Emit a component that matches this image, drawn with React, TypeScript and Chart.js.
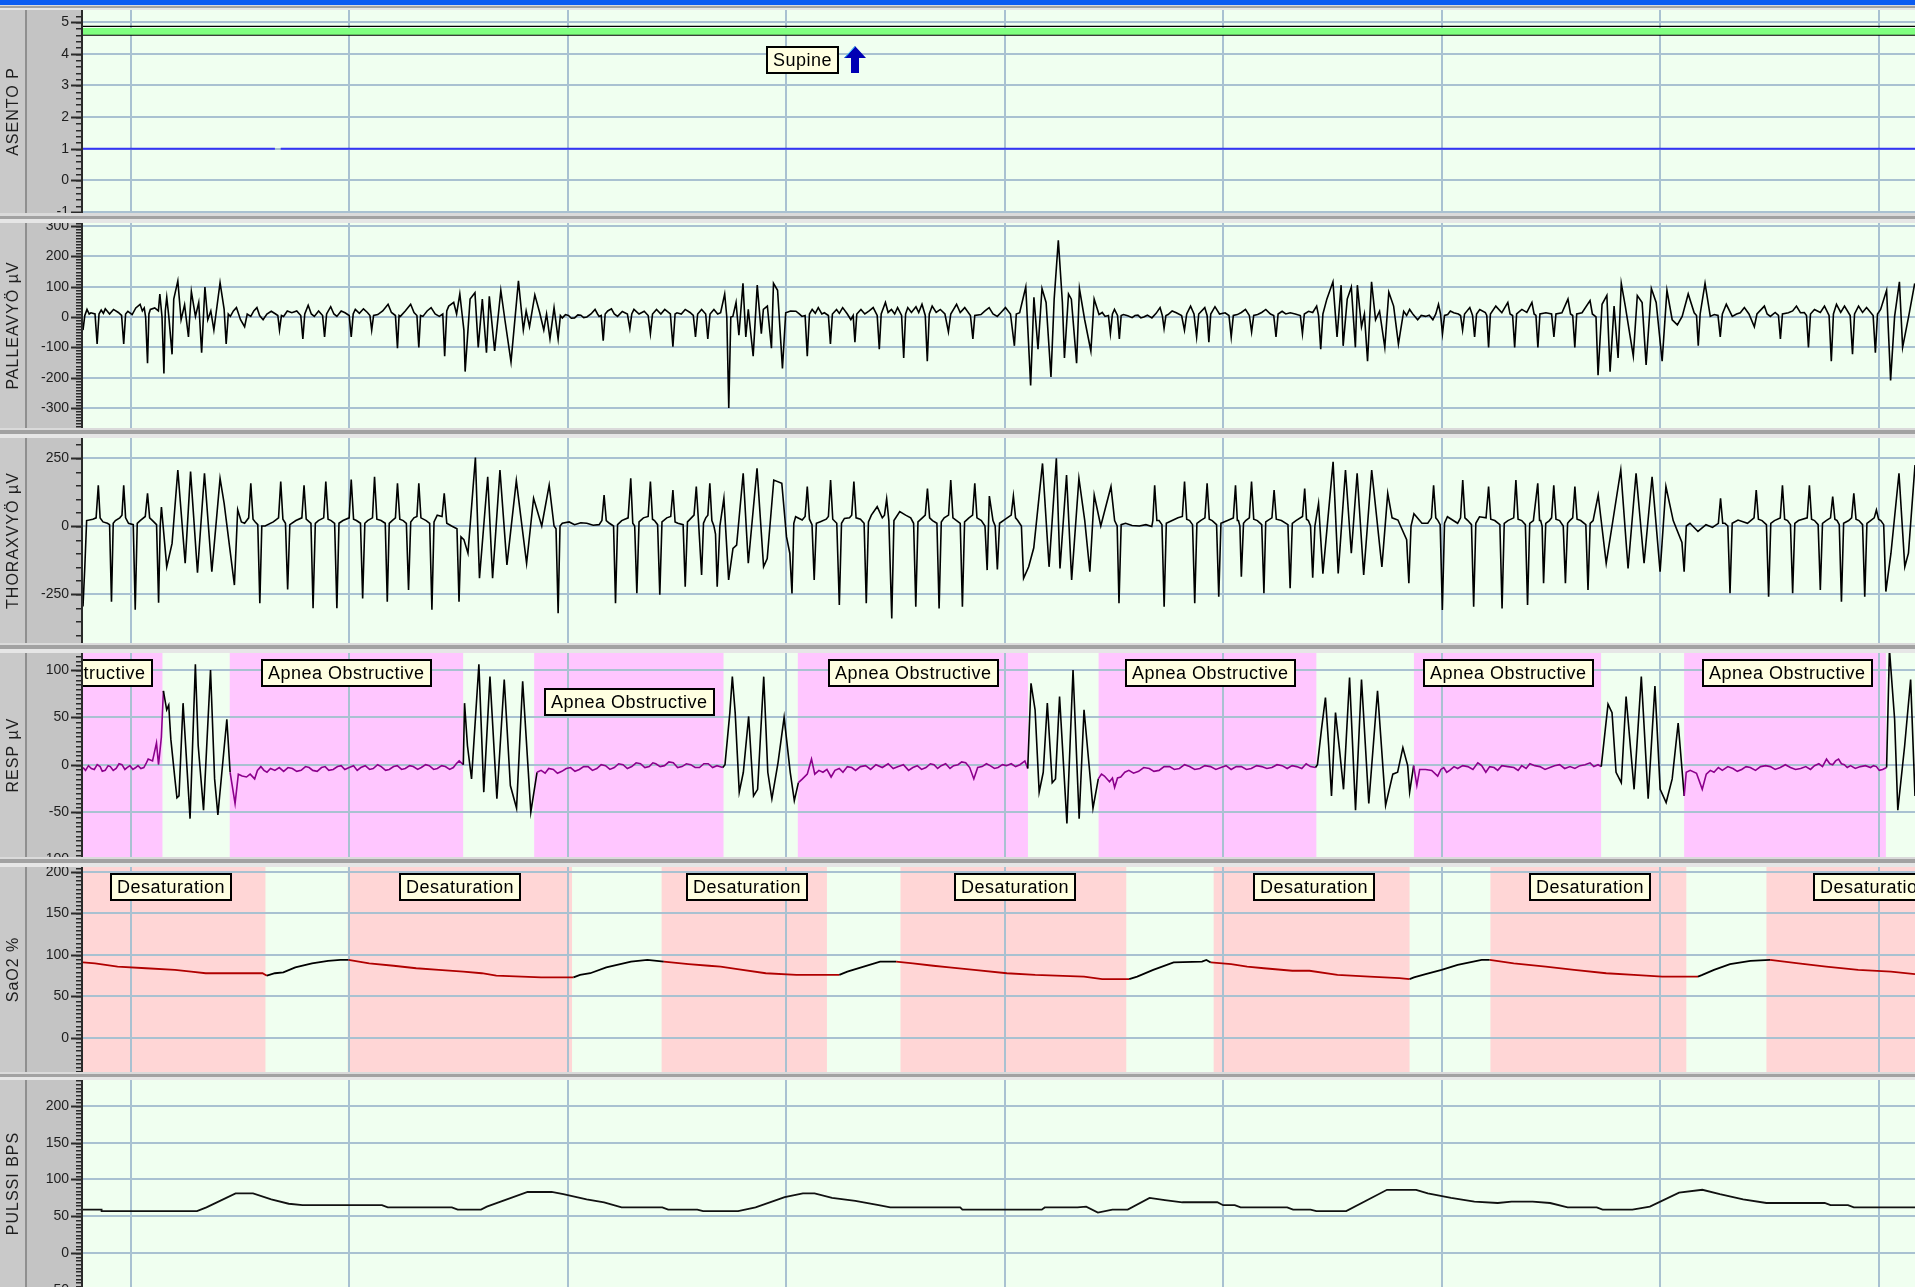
import React, { useEffect, useRef } from "react";
import { Chart, registerables } from "chart.js";

Chart.register(...registerables);

type Pt = [number, number];

// ---------- time axis ----------
const X_MIN = -6.55;
const X_MAX = 245.0;
const timeGrid = [0, 30, 60, 90, 120, 150, 180, 210, 240];

// ---------- events ----------
const apneaRegions: Pt[] = [[-6.55, 4.36], [13.6, 45.65], [55.4, 81.4], [91.6, 123.2], [132.9, 162.8], [176.2, 201.9], [213.3, 241.0]];
const desatRegions: Pt[] = [[-6.55, 18.5], [29.8, 60.6], [72.9, 95.6], [105.7, 136.7], [148.7, 175.6], [186.7, 213.6], [224.6, 245.0]];
const apneaLabelText = "Apnea Obstructive";
const apneaLabelT = [-20.35, 17.9, 56.7, 95.7, 136.5, 177.5, 215.7];
const apneaLabelLevel = [111.7, 111.7, 80.7, 111.7, 111.7, 111.7, 111.7];
const desatLabelText = "Desaturation";
const desatLabelT = [-2.8, 36.9, 76.2, 113.0, 154.1, 192.0, 231.0];
const desatLabelLevel = 198.4;
const positionLabelText = "Supine";
const positionLabelT = 87.2;
const positionLabelLevel = 4.24;
const positionArrowT = 99.4;

// ---------- ASENTO P ----------
const asentoTicks = [-1, 0, 1, 2, 3, 4, 5];
const bandTopLine: Pt[] = [[X_MIN, 4.86], [X_MAX, 4.86]];
const bandUpper: Pt[] = [[X_MIN, 4.81], [X_MAX, 4.81]];
const bandLower: Pt[] = [[X_MIN, 4.6], [X_MAX, 4.6]];
const positionValues: (number | null)[][] = [[X_MIN, 1], [19.8, 1], [20.2, null], [20.6, 1], [X_MAX, 1]];

// ---------- PALLEAVYÖ ----------
const palleaTicks = [300, 200, 100, 0, -100, -200, -300];
const palleaValues: Pt[] = [
  [-6.55,-43],[-6.3,5],[-6.0,25],[-5.7,10],[-5.46,14],[-4.9,10],[-4.61,-89],[-4.35,10],[-4.05,23],[-3.75,12],[-3.49,27],[-2.9,10],[-2.36,25],[-1.7,15],[-1.25,5],[-0.96,-89],[-0.7,10],[-0.39,19],[0.2,8],[0.7,30],[1.29,42],[1.6,20],[1.86,30],[2.05,0],[2.31,-152],[2.5,10],[2.7,25],[3.3,30],[3.8,20],[4.0,76],[4.3,0],[4.56,-186],[4.75,20],[4.95,65],[5.23,2],[5.68,-123],[5.91,59],[6.47,119],[6.92,-9],[7.4,40],[7.93,-66],[8.33,84],[8.89,2],[9.34,48],[9.74,-118],[10.19,99],[10.58,-9],[11.0,20],[11.42,-43],[12.27,113],[12.83,25],[13.11,-89],[13.4,10],[13.68,2],[14.1,20],[14.52,31],[15.08,-9],[15.64,-32],[16.0,10],[16.49,2],[16.9,20],[17.33,31],[17.7,5],[18.18,-9],[18.7,10],[19.3,19],[19.9,10],[20.2,5],[20.43,-43],[20.7,5],[20.99,2],[21.5,20],[22.12,14],[22.8,20],[23.35,5],[23.64,-72],[23.9,10],[24.37,39],[24.8,10],[25.21,2],[25.8,20],[26.35,5],[26.62,-66],[26.9,10],[27.46,34],[27.9,10],[28.31,2],[28.9,20],[29.43,14],[30.0,5],[30.28,-66],[30.55,10],[30.84,25],[31.4,12],[31.96,27],[32.5,15],[32.85,5],[33.09,-43],[33.35,5],[33.93,8],[34.6,20],[35.34,42],[35.8,15],[36.35,5],[36.63,-103],[36.85,5],[37.03,2],[37.7,20],[38.44,42],[38.9,15],[39.3,5],[39.56,-100],[39.8,5],[40.12,2],[40.7,20],[41.25,31],[41.8,10],[42.37,2],[42.85,10],[43.11,-129],[43.4,20],[43.67,36],[44.35,48],[44.75,10],[45.19,76],[45.5,10],[45.75,-43],[45.92,-180],[46.6,59],[47.27,80],[47.72,-100],[48.28,59],[48.85,-118],[49.24,68],[49.97,-112],[50.82,88],[51.38,-9],[52.22,-148],[53.24,119],[53.91,-43],[54.3,20],[54.76,-32],[55.49,73],[56.16,14],[56.72,-43],[57.1,10],[57.57,-72],[58.13,31],[58.69,-72],[59.0,5],[59.26,-3],[59.7,8],[60.1,5],[60.5,-4],[60.95,-3],[61.4,7],[61.8,6],[62.2,-2],[62.63,0],[63.2,10],[63.76,25],[64.1,10],[64.32,2],[64.6,5],[64.88,-78],[65.15,10],[65.5,20],[66.01,27],[66.4,10],[66.85,2],[67.5,18],[68.2,10],[68.54,-38],[68.8,10],[69.1,25],[69.8,10],[70.51,19],[71.05,5],[71.36,-55],[71.65,10],[72.2,25],[72.8,10],[73.33,25],[74.1,10],[74.45,-98],[74.75,10],[75.01,14],[75.6,10],[76.14,25],[76.8,15],[77.25,5],[77.55,-66],[77.85,10],[78.39,25],[78.95,10],[79.24,-72],[79.55,10],[80.08,25],[80.6,10],
  [81.0,14],[81.56,76],[81.85,0],[82.12,-300],[82.4,0],[82.68,2],[83.12,48],[83.51,-60],[84.07,111],[84.46,-66],[84.8,25],[85.47,-129],[86.03,105],[86.59,-55],[86.87,25],[87.42,36],[87.98,-103],[88.26,111],[88.82,88],[89.49,-170],[89.94,14],[90.6,20],[91.34,19],[91.8,10],[92.17,2],[92.6,5],[92.9,-129],[93.2,10],[93.57,25],[94.0,12],[94.41,31],[94.9,10],[95.25,14],[95.8,5],[96.08,-89],[96.35,10],[96.92,25],[97.3,12],[97.76,31],[98.4,10],[98.88,-9],[99.2,5],[99.44,-83],[99.7,10],[100.27,25],[100.8,10],[101.4,20],[101.95,31],[102.5,5],[102.79,-106],[103.05,10],[103.63,48],[104.0,15],[104.46,25],[104.9,10],[105.3,31],[105.85,5],[106.14,-135],[106.4,10],[106.7,31],[107.2,15],[107.82,34],[108.2,15],[108.65,42],[109.1,5],[109.38,-146],[109.65,10],[110.05,36],[110.6,15],[111.17,25],[111.8,10],[112.28,-49],[112.6,10],[113.4,42],[113.9,15],[114.52,31],[115.3,5],[115.64,-72],[115.9,5],[116.75,8],[117.3,20],[117.87,31],[118.4,10],[118.99,2],[119.5,15],[120.11,31],[120.8,10],[121.34,-95],[121.6,10],[122.06,14],[122.9,99],[123.57,-226],[124.02,65],[124.58,-106],[125.13,94],[125.69,48],[126.36,-198],[126.8,59],[127.37,253],[127.93,48],[128.21,-135],[128.77,76],[129.16,59],[129.88,-152],[130.27,94],[130.99,-9],[131.84,-112],[132.29,59],[132.96,8],[133.4,15],[133.79,2],[134.25,5],[134.52,-55],[134.8,10],[135.08,25],[135.5,5],[135.75,-72],[136.0,5],[136.31,8],[136.9,4],[137.5,-2],[137.9,5],[138.3,6],[138.7,-3],[139.1,0],[139.6,6],[140.22,-3],[140.8,12],[141.34,31],[141.65,5],[141.89,-38],[142.15,5],[142.45,8],[143.0,20],[143.57,14],[144.3,5],[144.69,-43],[145.0,10],[145.53,36],[146.0,10],[146.36,-66],[146.65,10],[147.48,31],[147.8,5],[148.04,-83],[148.3,10],[148.88,34],[149.5,10],[150.27,14],[150.8,5],[151.11,-66],[151.4,5],[151.95,8],[152.5,15],[153.07,25],[153.6,5],[153.91,-49],[154.2,5],[154.74,8],[155.3,15],[155.86,25],[156.5,10],[156.95,5],[157.26,-66],[157.55,10],[158.1,19],[158.6,10],[159.21,14],[159.9,10],[160.6,5],[160.89,-55],[161.15,10],[161.73,19],[162.3,15],[162.84,36],[163.1,5],[163.4,-106],[163.7,10],[164.24,59],[165.08,116],[165.64,-66],[166.2,105],[166.48,-95],[167.04,59],[167.6,99],[168.16,-100],[168.43,105],
  [169.0,-32],[169.4,10],[169.83,-146],[170.38,116],[170.93,-9],[171.48,19],[172.2,-100],[172.75,82],[173.41,36],[174.07,-89],[174.79,19],[175.2,5],[175.61,25],[176.1,8],[176.71,-9],[177.2,5],[177.81,2],[178.3,6],[178.8,-9],[179.2,10],[179.57,42],[179.85,10],[180.12,-55],[180.4,5],[180.84,8],[181.2,20],[181.66,14],[182.3,10],[182.6,5],[182.88,-43],[183.15,10],[183.87,31],[184.25,5],[184.53,-66],[184.8,10],[185.24,25],[186.0,15],[186.2,5],[186.45,-100],[186.7,10],[187.44,36],[188.27,14],[189.09,48],[189.4,10],[189.75,5],[190.03,-100],[190.3,10],[191.02,25],[191.7,15],[192.4,48],[192.7,10],[192.95,5],[193.22,-100],[193.5,10],[194.32,14],[195.1,10],[195.42,-66],[195.7,10],[196.52,14],[197.35,59],[197.7,10],[198.0,5],[198.29,-100],[198.55,10],[199.28,14],[200.38,54],[200.7,10],[201.2,0],[201.48,-192],[202.03,42],[202.69,71],[203.13,-180],[203.68,36],[204.23,-135],[204.67,111],[205.22,36],[206.32,-129],[206.87,71],[207.53,48],[208.08,-158],[208.8,94],[209.46,48],[210.28,-146],[210.94,88],[211.66,-9],[212.37,-26],[213.03,2],[213.86,76],[214.68,14],[215.0,5],[215.24,-95],[215.5,10],[216.17,111],[216.89,2],[217.44,8],[217.95,5],[218.26,-66],[218.55,10],[219.09,42],[219.91,2],[220.5,10],[221.01,14],[221.57,31],[222.2,10],[222.94,-32],[223.3,10],[224.32,36],[224.7,10],[225.14,2],[225.8,15],[226.25,5],[226.52,-72],[226.8,10],[227.62,14],[228.2,20],[228.72,36],[229.27,14],[229.8,15],[230.1,5],[230.37,-100],[230.65,10],[231.2,25],[232.0,15],[232.57,36],[233.2,5],[233.51,-146],[233.8,10],[234.22,42],[234.8,15],[235.32,36],[236.1,5],[236.42,-123],[236.7,10],[237.25,36],[237.8,15],[238.35,31],[239.25,5],[239.56,-118],[239.85,10],[240.28,25],[241.1,88],[241.65,-209],[242.2,2],[242.86,116],[243.3,-100],[244.13,2],[244.96,111]
];

// ---------- THORAXVYÖ ----------
const thoraxTicks = [250, 0, -250];
const thoraxValues: Pt[] = [
  [-6.55,-296],[-6.3,-150],[-6.05,20],[-5.2,25],[-4.75,30],[-4.45,150],[-4.2,30],[-3.8,15],[-3.2,10],[-2.9,5],[-2.64,-278],[-2.4,10],[-2.1,20],[-1.5,30],[-1.2,40],[-0.96,150],[-0.7,30],[-0.3,10],[0.35,5],[0.62,-308],[0.9,10],[1.3,20],[2.0,35],[2.31,120],[2.6,30],[3.0,20],[3.55,5],[3.83,-282],[4.05,0],
  [4.22,70],[4.95,-150],[5.68,-64],[6.47,206],[7.48,-137],[8.22,200],[9.17,-172],[10.13,194],[11.14,-168],[12.27,175],[12.83,83],[14.24,-217],[14.69,60],[15.2,15],
  [15.64,10],[16.2,30],[16.49,157],[16.8,25],[17.1,15],[17.45,5],[17.73,-284],[18.0,0],[18.46,0],[19.58,15],[20.3,30],[20.6,163],[20.9,25],[21.25,10],[21.55,-233],[21.85,5],[22.68,20],[23.5,30],[23.8,150],[24.1,25],[24.75,10],[25.04,-302],[25.35,10],[25.77,20],[26.5,30],[26.79,163],[27.1,25],[27.52,20],[28.0,10],[28.31,-302],[28.6,10],[29.15,20],[30.0,30],[30.28,171],[30.6,25],[31.0,20],[31.55,10],[31.85,-266],[32.15,10],[32.53,20],[33.2,30],[33.48,181],[33.8,25],[34.38,20],[34.95,10],[35.23,-278],[35.5,10],[35.9,20],[36.35,30],[36.63,157],[36.95,25],[37.42,20],[37.85,10],[38.15,-235],[38.45,15],[38.89,30],[39.3,35],[39.56,157],[39.85,30],[40.57,20],[41.05,10],[41.36,-308],[41.65,15],[42.09,40],[42.75,35],[43.05,120],[43.4,10],[44.06,0],[44.8,-10],[45.08,-278],[45.35,-40],
  [45.75,-50],[46.31,-100],[47.33,252],[47.89,-192],[49.02,181],[49.69,-192],[50.7,206],[51.66,-143],[52.95,167],[54.36,-137],[55.32,102],[56.44,0],[57.46,150],[58.13,0],[58.4,-10],[58.69,-321],[58.95,0],
  [59.26,10],[60.2,15],[60.95,5],[61.8,12],[62.63,10],[63.5,3],[64.32,5],[64.7,20],[65.0,114],[65.3,20],[65.73,10],[66.3,0],[66.57,-284],[66.85,5],[67.42,20],[68.3,30],[68.66,175],[68.94,10],[69.2,0],[69.5,-247],[69.8,15],[70.4,30],[71.05,35],[71.36,163],[71.65,25],[71.92,20],[72.35,5],[72.65,-253],[72.95,15],[73.61,30],[74.15,35],[74.45,132],[74.75,15],[75.13,10],[75.85,5],[76.14,-223],[76.45,15],[76.98,30],[77.35,40],[77.66,145],[78.0,0],[78.39,-180],[78.65,10],[78.96,30],[79.25,40],[79.52,157],[79.8,20],[80.08,0],[80.3,-30],[80.53,-223],[80.9,0],
  [81.45,102],[82.1,-198],[82.7,-82],[83.2,-70],[84.1,194],[84.8,-137],[86.0,212],[86.9,-150],[87.4,-120],[88.3,169],[89.4,157],[90.05,-40],[90.5,-100],[90.8,-248],[91.05,10],
  [91.3,34],[92.2,22],[92.6,35],[92.9,145],[93.2,25],[93.55,5],[93.85,-198],[94.15,10],[94.7,16],[95.5,25],[95.8,35],[96.1,169],[96.4,25],[96.95,10],[97.3,-290],[97.6,10],[98.0,28],[98.7,30],[99.0,40],[99.3,163],[99.6,30],[100.2,25],[100.7,10],[101.0,-284],[101.3,15],[101.7,40],[102.5,71],[103.2,30],[103.5,40],[103.8,100],[104.1,20],[104.5,-340],[104.8,20],[105.6,53],[106.4,40],[107.1,30],[107.5,10],[107.8,-297],[108.1,15],[108.7,30],[109.1,40],[109.4,138],[109.7,30],[110.1,20],[110.7,10],[111.0,-303],[111.3,15],[111.7,30],[112.3,40],[112.6,169],[112.9,30],[113.4,20],[113.9,10],[114.2,-297],[114.5,15],[115.1,30],[115.6,40],[115.9,157],[116.2,30],[116.8,20],[117.3,0],[117.6,-162],[117.9,110],[118.4,20],[118.7,0],[119.0,-160],[119.3,10],[120.1,25],[120.9,40],[121.2,110],[121.5,30],[121.8,20],[122.3,0],[122.6,-192],[123.3,-150],[124.0,-80],
  [125.2,230],[126.1,-150],[127.1,249],[127.6,-156],[128.5,187],[129.2,-198],[130.2,175],[131.0,20],[131.7,-168],[132.3,114],[133.2,0],[134.6,145],[135.1,20],[135.45,0],[135.7,-284],[136.0,5],
  [136.6,10],[137.5,2],[138.5,0],[139.4,5],[140.2,-2],
  [140.35,20],[140.6,150],[140.9,20],[141.2,20],[141.6,5],[141.9,-297],[142.2,10],[143.0,20],[143.8,30],[144.4,35],[144.7,163],[145.0,25],[145.4,20],[145.8,5],[146.1,-284],[146.4,10],[146.9,20],[147.5,30],[147.8,157],[148.1,25],[148.5,20],[149.1,5],[149.4,-260],[149.7,10],[150.6,20],[151.4,30],[151.7,150],[151.95,20],[152.1,20],[152.3,0],[152.5,-186],[152.8,10],[153.1,20],[153.6,30],[153.9,163],[154.2,25],[154.7,20],[155.3,5],[155.6,-247],[155.85,15],[156.1,20],[156.7,30],[157.0,132],[157.3,25],[158.0,20],[158.9,5],[159.2,-229],[159.5,10],[160.0,20],[160.9,35],[161.2,138],[161.45,25],[161.7,20],[162.0,0],[162.3,-190],[162.6,0],
  [163.1,83],[163.7,-175],[165.1,236],[165.8,-174],[166.8,206],[167.6,-100],[168.4,194],[169.3,-180],[170.4,206],[171.8,-150],[172.6,120],[173.2,30],[174.0,22],[175.2,-50],[175.5,-210],[175.8,0],
  [176.2,45],[177.3,10],[178.1,10],[178.6,30],[178.9,150],[179.2,30],[179.5,20],[179.8,5],[180.1,-309],[180.4,10],[180.8,34],[182.2,10],[182.6,30],[182.9,169],[183.2,30],[183.6,20],[184.1,5],[184.4,-297],[184.7,10],[185.2,34],[186.1,30],[186.45,145],[186.75,25],[187.3,20],[188.0,5],[188.3,-303],[188.6,10],[189.1,20],[189.9,30],[190.2,169],[190.5,25],[191.0,20],[191.5,5],[191.8,-290],[192.1,10],[192.6,20],[193.2,157],[193.45,20],[193.6,20],[193.8,0],[194.0,-210],[194.3,10],[194.8,20],[195.1,30],[195.4,150],[195.7,25],[196.2,20],[196.7,0],[197.0,-210],[197.3,10],[197.6,20],[198.0,30],[198.3,145],[198.6,25],[199.1,20],[199.8,5],[200.1,-235],[200.4,10],[200.8,20],[201.5,114],[202.0,0],[202.6,-137],
  [204.6,206],[205.6,-156],[206.7,194],[207.8,-137],[208.9,181],[210.0,-168],[210.8,145],[211.8,20],[213.0,-60],[213.3,-168],[213.6,0],
  [214.1,10],[215.2,-20],[216.3,5],[217.2,-5],[218.0,10],[218.3,102],[218.6,10],[218.9,10],[219.3,0],[219.6,-247],[219.9,10],[220.7,22],[222.0,10],[222.9,30],[223.2,132],[223.5,25],[224.0,20],[224.6,5],[224.9,-260],[225.2,10],[225.7,20],[226.5,30],[226.8,150],[227.1,25],[227.5,20],[227.9,5],[228.2,-247],[228.5,10],[229.0,20],[230.2,30],[230.5,150],[230.8,25],[231.2,20],[231.7,5],[232.0,-235],[232.3,10],[232.8,20],[233.4,30],[233.7,108],[234.0,25],[234.3,20],[234.6,5],[234.9,-278],[235.2,10],[235.9,20],[236.3,30],[236.6,120],[236.9,25],[237.3,20],[237.8,5],[238.1,-260],[238.4,10],[238.9,20],[239.4,30],[239.7,59],[240.0,25],[240.3,20],[240.7,5],[241.0,-241],[241.7,-100],[242.8,194],[243.6,-150],[244.1,-100],[245.0,224]
];

// ---------- RESP ----------
const respTicks = [100, 50, 0, -50, -100];
const respValues: Pt[] = [
  [-6.55,-3],[-6.2,-6],[-5.8,-1],[-5.4,-4],[-5.0,-5],[-4.6,0],[-4.2,-2],[-3.9,-7],[-3.5,-6],[-3.1,-1],[-2.8,-2],[-2.4,-6],[-2.0,-4],[-1.6,1],[-1.2,0],[-0.8,-5],[-0.5,-3],[-0.1,-1],[0.3,-5],[0.7,-3],[1.0,-1],[1.4,-4],[1.8,-3],[2.1,1],[2.4,6],[3.0,4],[3.54,23],[3.82,0],[4.21,29],
  [4.49,78],[4.94,58],[5.22,63],[5.51,27],[6.07,-15],[6.35,-35],[6.63,-33],[7.19,65],[8.15,-57],[8.88,106],[9.27,20],[10.0,-48],[10.96,100],[11.52,-15],[11.97,-53],[13.2,48],[13.65,-8],[14.33,-41],
  [14.78,-10],[15.3,-12],[15.9,-13],[16.4,-10],[17.02,-15],[17.4,-6],[17.87,-2],[18.3,-6],[18.71,-8],[19.2,-4],[19.8,-6],[20.4,-3],[21.0,-7],[21.6,-3],[22.2,-4],[22.8,-7],[23.4,-6],[24.0,-2],[24.5,-3],[25.0,-6],[25.6,-7],[26.2,-3],[26.7,-2],[27.2,-6],[27.8,-5],[28.4,-2],[28.9,-1],[29.4,-5],[30.0,-3],[30.6,-1],[31.1,-6],[31.6,-3],[32.2,-1],[32.8,-5],[33.3,-4],[33.9,0],[34.4,-2],[35.0,-6],[35.5,-5],[36.1,-2],[36.6,-1],[37.2,-5],[37.7,-4],[38.3,-1],[38.8,-2],[39.4,-5],[39.9,-3],[40.5,0],[41.0,-1],[41.6,-5],[42.1,-4],[42.7,-1],[43.2,-2],[43.8,-5],[44.3,-3],[44.7,1],[45.1,4],
  [45.67,0],[45.84,65],[46.24,20],[46.8,-15],[47.81,106],[48.48,-29],[49.33,93],[50.28,-36],[51.29,90],[52.13,-22],[52.98,-46],[53.82,88],[54.94,-50],
  [55.79,-8],[56.35,-6],[56.9,-9],[57.4,-4],[58.03,-5],[58.6,-9],[59.2,-7],[59.8,-4],[60.4,-3],[61.0,-7],[61.6,-5],[62.2,-2],[62.8,-2],[63.4,-6],[64.0,-4],[64.6,0],[65.2,-1],[65.8,-5],[66.4,-3],[67.0,1],[67.6,0],[68.2,-4],[68.8,-2],[69.4,2],[70.0,1],[70.6,-3],[71.2,-2],[71.7,2],[72.1,1],[72.7,-2],[73.3,-1],[73.9,3],[74.5,2],[75.1,-3],[75.7,-2],[76.3,1],[76.9,0],[77.5,-3],[78.1,-3],[78.7,1],[79.3,1],[79.9,-3],[80.5,-1],[81.3,-3],
  [81.6,0],[82.27,55],[82.61,93],[83.0,55],[83.56,-29],[84.12,-8],[84.85,51],[85.52,-33],[86.08,-26],[86.92,93],[87.48,-8],[88.04,-36],[88.88,2],[89.72,50],[90.56,-8],[91.12,-38],
  [91.68,-19],[92.24,-15],[92.9,-10],[93.48,6],[93.93,-10],[94.5,-6],[95.05,-8],[95.6,-5],[96.17,-13],[96.7,-6],[97.29,-4],[97.8,-8],[98.4,-2],[99.0,-3],[99.53,-6],[100.2,-2],[100.9,-1],[101.6,-5],[102.33,0],[103.2,-3],[104.01,1],[104.7,-4],[105.4,-2],[106.1,0],[106.81,-6],[107.4,-3],[108.0,-1],[108.6,-5],[109.2,-3],[109.8,1],[110.3,0],[110.8,-4],[111.29,-1],[111.9,1],[112.5,-4],[113.0,-1],[113.6,0],[114.1,3],[114.65,2],[115.2,-3],[115.77,-15],[116.3,-3],[116.9,-2],[117.5,1],[118.01,-1],[118.6,-4],[119.1,-3],[119.7,0],[120.26,-1],[120.9,1],[121.5,-2],[122.1,0],[122.78,4],[123.17,-4],
  [123.62,86],[124.18,58],[124.74,-29],[125.3,-8],[125.86,65],[126.53,-19],[126.98,-15],[127.54,72],[128.55,-62],[129.39,100],[130.23,-57],[130.9,58],[132.13,-46],
  [132.86,-15],[133.3,-10],[133.7,-12],[134.4,-18],[134.8,-14],[135.1,-24],[135.5,-14],[135.94,-13],[136.5,-8],[137.06,-6],[137.7,-9],[138.4,-7],[139.1,-3],[139.86,-4],[140.5,-7],[141.2,-6],[141.9,-2],[142.66,-2],[143.3,-5],[144.0,-4],[144.7,0],[145.4,-2],[146.1,-5],[146.8,-4],[147.5,-1],[148.27,-2],[149.0,-5],[149.7,-3],[150.4,-1],[151.1,-5],[151.8,-2],[152.5,-2],[153.2,-5],[153.87,-4],[154.6,-1],[155.3,-2],[156.0,-4],[156.7,-3],[157.4,0],[158.1,-1],[158.8,-4],[159.47,-1],[160.1,-2],[160.8,-4],[161.4,1],[162.0,-2],[162.68,-3],
  [162.95,0],[163.5,37],[164.05,71],[164.49,20],[164.88,-33],[165.43,55],[165.98,16],[166.53,-26],[167.36,92],[168.18,-48],[169.0,90],[170.0,-41],[171.2,78],[172.31,-43],[173.3,-10],[173.96,-8],[174.68,18],[175.34,-1],[175.61,-29],
  [176.16,-1],[176.6,-22],[176.99,-5],[177.8,-5],[178.64,-6],[179.46,-12],[179.9,-5],[180.29,-3],[180.7,-8],[181.11,-6],[181.7,-2],[182.21,-4],[182.9,-1],[183.6,-2],[184.3,-5],[184.97,2],[185.5,-1],[186.07,-8],[186.6,-2],[187.2,-3],[187.7,-6],[188.27,-1],[189.1,-2],[189.92,-3],[190.5,-6],[191.0,-1],[191.6,-4],[192.12,1],[192.8,-1],[193.5,-2],[194.2,-5],[194.87,-3],[195.5,-1],[196.2,0],[196.9,-4],[197.63,-2],[198.3,-4],[199.0,-1],[199.7,0],[200.38,2],[200.9,-2],[201.48,0],[201.92,-2],
  [202.85,64],[203.4,55],[203.95,-8],[204.67,-19],[205.33,72],[206.43,-26],[207.42,93],[208.36,-36],[209.29,83],[210.01,-26],[210.83,-40],[211.66,-15],[212.48,44],[213.31,-33],
  [213.59,-8],[214.14,-6],[215.0,-9],[215.79,-26],[216.34,-10],[216.9,-6],[217.4,-8],[218.0,-3],[218.54,-6],[219.3,-2],[220.0,-4],[220.6,-7],[221.2,-5],[221.8,-2],[222.39,-3],[223.1,-6],[223.8,-2],[224.5,-1],[225.14,-2],[225.8,-5],[226.5,-3],[227.2,0],[227.9,-3],[228.6,-5],[229.3,-4],[230.0,-2],[230.65,-5],[231.2,-1],[231.8,1],[232.3,-2],[232.85,6],[233.3,1],[233.7,0],[234.1,4],[234.5,6],[234.9,1],[235.3,0],[235.7,-3],[236.15,-1],[236.8,-4],[237.5,-2],[238.2,-1],[238.9,-3],[239.3,-1],[239.7,-2],[240.1,-6],[240.55,-5],[241.1,-3],
  [241.49,122],[242.2,48],[242.64,-48],[243.58,20],[244.4,90],[245.0,-33]
];

// ---------- SaO2 ----------
const sao2Ticks = [200, 150, 100, 50, 0];
const sao2Values: Pt[] = [
  [-6.55,91],[-4.9,90],[-1.8,86],[2.1,84],[6.07,82],[8.3,80],[10.3,78],[18.1,78],[18.7,75],[19.8,78],[20.96,79],[22.6,85],[24.9,90],[27.1,93],[28.8,94],[29.9,94],[32.75,90],[36.1,87],[39.2,84],[42.3,82],[45.67,80],[48.2,78],[50.2,75],[56.35,73],[60.8,73],[61.7,76],[63.1,78],[65.3,85],[68.7,92],[70.95,94],[73.2,92],[76.6,89],[79.4,87],[81.0,86],[83.3,83],[87.2,78],[91.4,76],[97.3,76],[98.4,80],[100.65,86],[102.9,92],[105.1,92],[107.4,90],[110.2,87],[112.4,85],[115.8,82],[120.3,78],[124.2,76],[130.9,74],[133.4,71],[137.1,71],[138.2,74],[140.4,82],[143.2,91],[147.1,92],[147.7,94],[148.3,91],[151.1,89],[153.3,86],[155.6,84],[159.5,81],[161.85,81],[165.7,76],[170.1,74],[174.2,72],[175.6,71],[176.2,73],[177.8,77],[180.0,82],[182.2,88],[185.5,94],[186.6,94],[189.9,90],[194.3,86],[198.2,82],[202.6,78],[206.4,76],[210.3,74],[215.2,74],[215.8,76],[217.4,82],[219.6,89],[222.4,93],[225.1,94],[229.0,90],[232.8,86],[237.2,82],[241.7,80],[245.0,77]
];

// ---------- PULSSI ----------
const pulseTicks = [200, 150, 100, 50, 0, -50];
const pulseValues: Pt[] = [
  [-6.55,59],[-4.0,59],[-4.0,57],[9.1,57],[10.4,62],[14.4,81],[16.8,81],[19.3,73],[21.7,67],[23.6,65],[34.5,65],[35.3,62],[44.1,62],[44.9,59],[48.1,59],[48.9,63],[54.5,83],[57.8,83],[59.4,80],[62.6,73],[65.0,69],[67.4,62],[73.0,62],[73.8,59],[77.8,59],[78.6,57],[83.4,57],[85.8,62],[89.8,76],[92.3,81],[93.9,81],[96.3,75],[99.5,71],[102.7,65],[104.3,62],[113.9,62],[114.2,59],[125.1,59],[125.5,62],[130.0,62],[131.2,63],[132.8,55],[134.8,59],[136.9,59],[139.9,75],[142.0,72],[144.4,69],[149.2,69],[150.0,65],[151.6,65],[152.4,62],[158.8,62],[159.6,59],[162.0,59],[162.8,57],[166.9,57],[172.5,86],[176.5,86],[178.1,81],[181.3,75],[184.5,70],[187.7,68],[189.6,70],[192.5,70],[194.9,68],[197.3,62],[201.3,62],[202.1,59],[206.2,59],[208.6,63],[212.6,82],[215.8,86],[218.2,80],[221.4,73],[224.6,68],[232.6,68],[233.4,65],[235.8,65],[236.6,62],[245.0,62]
];

// ---------- styling ----------
const W = 1915;
const AXIS_W = 83;
const GRID = "#a9c1d1";
const FONT = '"Liberation Sans", Arial, sans-serif';

const toXY = (arr: (number | null)[][]) => arr.map(([x, y]) => ({ x: x as number, y }));
const inRegions = (t: number, regions: Pt[]) => regions.some(([a, b]) => t >= a && t <= b);
const segColor = (regions: Pt[], color: string) => (ctx: any) => {
  const m = (ctx.p0.parsed.x + ctx.p1.parsed.x) / 2;
  return inRegions(m, regions) ? color : "#000000";
};

function drawBox(ctx: CanvasRenderingContext2D, text: string, x: number, y: number) {
  ctx.font = `18px ${FONT}`;
  (ctx as any).letterSpacing = "0.5px";
  const w = Math.round(ctx.measureText(text).width + 14);
  const h = 28;
  x = Math.round(x);
  y = Math.round(y);
  ctx.fillStyle = "#ffffe1";
  ctx.fillRect(x, y, w, h);
  ctx.strokeStyle = "#000";
  ctx.lineWidth = 2;
  ctx.strokeRect(x + 1, y + 1, w - 2, h - 2);
  ctx.fillStyle = "#000";
  ctx.textAlign = "left";
  ctx.textBaseline = "middle";
  ctx.fillText(text, x + 7, y + h / 2 + 1);
  (ctx as any).letterSpacing = "0px";
}

type PanelCfg = {
  title: string;
  min: number;
  max: number;
  ticks: number[];
  minor: number;
  datasets: () => any[];
  regions?: { list: Pt[]; color: string };
  overlay?: (chart: any) => void;
};

function makePlugin(cfg: PanelCfg) {
  return {
    id: "psg",
    beforeDraw(chart: any) {
      const { ctx, chartArea: a } = chart;
      const xs = chart.scales.x;
      ctx.save();
      ctx.fillStyle = "#c4c4c4";
      ctx.fillRect(0, 0, a.left, chart.height);
      ctx.fillStyle = "#c9c9c9";
      ctx.fillRect(0, 0, 25, chart.height);
      ctx.fillStyle = "#8f8f8f";
      ctx.fillRect(25, 0, 2, chart.height);
      ctx.fillStyle = "#f0fff0";
      ctx.fillRect(a.left, a.top, a.right - a.left, a.bottom - a.top);
      if (cfg.regions) {
        ctx.fillStyle = cfg.regions.color;
        for (const [s, e] of cfg.regions.list) {
          const x0 = Math.max(a.left, xs.getPixelForValue(s));
          const x1 = Math.min(a.right, xs.getPixelForValue(e));
          ctx.fillRect(x0, a.top, x1 - x0, a.bottom - a.top);
        }
      }
      ctx.restore();
    },
    afterDatasetsDraw(chart: any) {
      if (!cfg.overlay) return;
      const { ctx, chartArea: a } = chart;
      ctx.save();
      ctx.beginPath();
      ctx.rect(a.left, a.top, a.right - a.left, a.bottom - a.top);
      ctx.clip();
      cfg.overlay(chart);
      ctx.restore();
    },
    afterDraw(chart: any) {
      const { ctx, chartArea: a } = chart;
      const ys = chart.scales.y;
      ctx.save();
      ctx.fillStyle = "#2a2a2a";
      ctx.fillRect(a.left - 2, 0, 2, chart.height);
      const k0 = Math.ceil(cfg.min / cfg.minor);
      const k1 = Math.floor(cfg.max / cfg.minor);
      for (let k = k0; k <= k1; k++) {
        const y = Math.round(ys.getPixelForValue(k * cfg.minor));
        ctx.fillRect(a.left - 7, y, 7, 1.5);
      }
      for (const v of cfg.ticks) {
        const y = Math.round(ys.getPixelForValue(v));
        ctx.fillRect(a.left - 12, y - 0.5, 12, 2);
      }
      ctx.translate(13, (a.top + a.bottom) / 2);
      ctx.rotate(-Math.PI / 2);
      ctx.font = `16px ${FONT}`;
      (ctx as any).letterSpacing = "1px";
      ctx.fillStyle = "#1e1e1e";
      ctx.textAlign = "center";
      ctx.textBaseline = "middle";
      ctx.fillText(cfg.title, 0, 1);
      ctx.restore();
    },
  };
}

const panels: PanelCfg[] = [
  {
    title: "ASENTO P",
    min: -1.03,
    max: 5.38,
    ticks: asentoTicks,
    minor: 0.2,
    datasets: () => [
      { data: toXY(bandTopLine), borderColor: "#000", borderWidth: 1.2 },
      { data: toXY(bandUpper), borderWidth: 0, borderColor: "rgba(0,0,0,0)", backgroundColor: "#80ff80", fill: "+1" },
      { data: toXY(bandLower), borderColor: "#000", borderWidth: 2 },
      { data: toXY(positionValues), borderColor: "#3535f5", borderWidth: 2, spanGaps: false },
    ],
    overlay: (chart: any) => {
      const { ctx } = chart;
      const xs = chart.scales.x;
      const ys = chart.scales.y;
      const top = ys.getPixelForValue(positionLabelLevel);
      drawBox(ctx, positionLabelText, xs.getPixelForValue(positionLabelT), top);
      const cx = Math.round(xs.getPixelForValue(positionArrowT));
      const t = Math.round(top);
      ctx.fillStyle = "#0000b4";
      ctx.beginPath();
      ctx.moveTo(cx, t);
      ctx.lineTo(cx + 11, t + 12);
      ctx.lineTo(cx + 4, t + 12);
      ctx.lineTo(cx + 4, t + 27);
      ctx.lineTo(cx - 4, t + 27);
      ctx.lineTo(cx - 4, t + 12);
      ctx.lineTo(cx - 11, t + 12);
      ctx.closePath();
      ctx.fill();
      ctx.strokeStyle = "#3fd0ff";
      ctx.lineWidth = 1;
      ctx.beginPath();
      ctx.moveTo(cx - 10, t + 11.5);
      ctx.lineTo(cx, t + 0.5);
      ctx.stroke();
    },
  },
  {
    title: "PALLEAVYÖ µV",
    min: -366,
    max: 310,
    ticks: palleaTicks,
    minor: 10,
    datasets: () => [{ data: toXY(palleaValues), borderColor: "#000", borderWidth: 1.6 }],
  },
  {
    title: "THORAXVYÖ µV",
    min: -430,
    max: 323.5,
    ticks: thoraxTicks,
    minor: 50,
    datasets: () => [{ data: toXY(thoraxValues), borderColor: "#000", borderWidth: 1.6 }],
  },
  {
    title: "RESP µV",
    min: -97.5,
    max: 118,
    ticks: respTicks,
    minor: 5,
    regions: { list: apneaRegions, color: "#ffc6ff" },
    datasets: () => [
      {
        data: toXY(respValues),
        borderColor: "#000",
        borderWidth: 1.6,
        segment: { borderColor: segColor(apneaRegions, "#8c008c") },
      },
    ],
    overlay: (chart: any) => {
      const xs = chart.scales.x;
      const ys = chart.scales.y;
      apneaLabelT.forEach((t, i) => {
        drawBox(chart.ctx, apneaLabelText, xs.getPixelForValue(t), ys.getPixelForValue(apneaLabelLevel[i]));
      });
    },
  },
  {
    title: "SaO2 %",
    min: -41,
    max: 206,
    ticks: sao2Ticks,
    minor: 5,
    regions: { list: desatRegions, color: "#ffd6d6" },
    datasets: () => [
      {
        data: toXY(sao2Values),
        borderColor: "#000",
        borderWidth: 1.8,
        segment: { borderColor: segColor(desatRegions, "#b00000") },
      },
    ],
    overlay: (chart: any) => {
      const xs = chart.scales.x;
      const ys = chart.scales.y;
      desatLabelT.forEach((t) => {
        drawBox(chart.ctx, desatLabelText, xs.getPixelForValue(t), ys.getPixelForValue(desatLabelLevel));
      });
    },
  },
  {
    title: "PULSSI BPS",
    min: -46.3,
    max: 235.4,
    ticks: pulseTicks,
    minor: 5,
    datasets: () => [{ data: toXY(pulseValues), borderColor: "#111", borderWidth: 1.8 }],
  },
];

const layout = [
  { top: 10, height: 203 },
  { top: 223, height: 205 },
  { top: 438, height: 205 },
  { top: 653, height: 204 },
  { top: 867, height: 205 },
  { top: 1080, height: 207 },
];
const separators = [
  { top: 5, height: 5 },
  { top: 213, height: 10 },
  { top: 428, height: 10 },
  { top: 643, height: 10 },
  { top: 857, height: 10 },
  { top: 1072, height: 8 },
];

function Panel({ cfg, top, height }: { cfg: PanelCfg; top: number; height: number }) {
  const ref = useRef<HTMLCanvasElement>(null);
  useEffect(() => {
    const canvas = ref.current!;
    const chart = new Chart(canvas, {
      type: "line",
      data: { datasets: cfg.datasets() },
      options: {
        animation: false,
        responsive: false,
        maintainAspectRatio: false,
        devicePixelRatio: 1,
        layout: { padding: 0 },
        events: [],
        elements: { point: { radius: 0 }, line: { tension: 0 } },
        plugins: { legend: { display: false }, tooltip: { enabled: false } },
        scales: {
          x: {
            type: "linear",
            min: X_MIN,
            max: X_MAX,
            afterFit: (s: any) => {
              s.height = 0;
              s.paddingLeft = 0;
              s.paddingRight = 0;
            },
            afterBuildTicks: (s: any) => {
              s.ticks = timeGrid.map((v) => ({ value: v }));
            },
            ticks: { display: false },
            grid: { color: GRID, lineWidth: 2, drawTicks: false },
            border: { display: false },
          },
          y: {
            type: "linear",
            min: cfg.min,
            max: cfg.max,
            afterFit: (s: any) => {
              s.width = AXIS_W;
              s.paddingTop = 0;
              s.paddingBottom = 0;
            },
            afterBuildTicks: (s: any) => {
              s.ticks = cfg.ticks.map((v) => ({ value: v }));
            },
            ticks: {
              autoSkip: false,
              padding: 14,
              color: "#1e1e1e",
              font: { family: FONT, size: 14 },
              callback: (v: any) => String(v),
            },
            grid: { color: GRID, lineWidth: 2, drawTicks: false },
            border: { display: false },
          },
        },
      } as any,
      plugins: [makePlugin(cfg) as any],
    });
    return () => chart.destroy();
  }, []);
  return (
    <div style={{ position: "absolute", left: 0, top, width: W, height }}>
      <canvas ref={ref} width={W} height={height} style={{ display: "block", width: W, height }} />
    </div>
  );
}

export default function App() {
  useEffect(() => {
    document.body.style.margin = "0";
    document.body.style.overflow = "hidden";
  }, []);
  return (
    <div style={{ position: "relative", width: W, height: 1287, overflow: "hidden", background: "#c8c8c8" }}>
      <div style={{ position: "absolute", left: 0, top: 0, width: W, height: 5, background: "#0a5cf2" }} />
      {separators.map((s, i) => (
        <div
          key={"s" + i}
          style={{
            position: "absolute",
            left: 0,
            top: s.top,
            width: W,
            height: s.height,
            background: "linear-gradient(#dadada 0%, #dadada 25%, #a2a2a2 25%, #a2a2a2 60%, #e6e6e6 60%, #e6e6e6 100%)",
          }}
        />
      ))}
      {panels.map((p, i) => (
        <Panel key={i} cfg={p} top={layout[i].top} height={layout[i].height} />
      ))}
    </div>
  );
}
